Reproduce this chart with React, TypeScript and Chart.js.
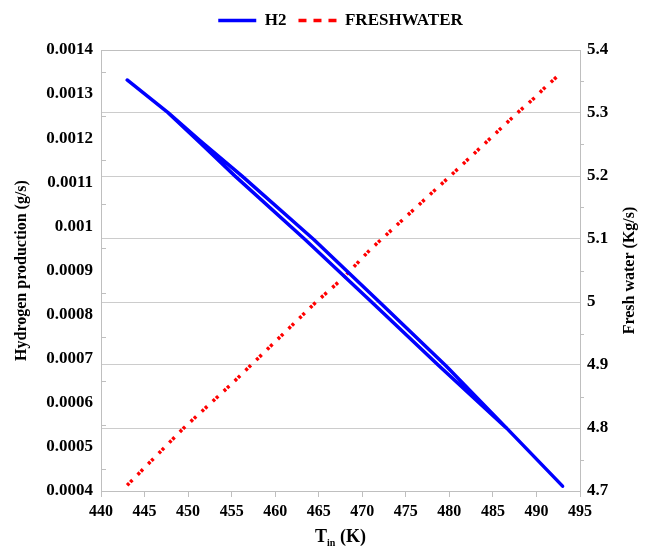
import React, { useEffect, useRef } from "react";
import { Chart, registerables } from "chart.js";

Chart.register(...registerables);

// ---- data ----
const seriesLabels = ["H2", "FRESHWATER"];

// H2 traces a narrow loop: out along the lower branch, back along the upper one
const h2Temps = [443, 447.7, 451.4, 455.4, 463.4, 471.1, 478.8, 486.6, 493, 486.6, 479.6, 472.0, 464.4, 456.2, 451.4, 447.7, 443];
const h2Values = [0.001332, 0.001258, 0.001189, 0.001114, 0.000971, 0.000828, 0.000684, 0.000542, 0.000411, 0.000542, 0.000684, 0.000828, 0.000971, 0.001114, 0.001194, 0.001258, 0.001332];

const fwTemps = [443, 449.5, 455, 464.7, 467.8, 470.9, 480.1, 487.8, 489.6, 491.1, 492.7];
const fwValues = [4.709, 4.8, 4.87, 5.0, 5.038, 5.083, 5.2, 5.3, 5.322, 5.342, 5.362];

const xRange = [440, 495];
const xStep = 5;
const h2Range = [0.0004, 0.0014];
const h2Step = 0.0001;
const fwRange = [4.7, 5.4];
const fwStep = 0.1;

const leftTitle = "Hydrogen production (g/s)";
const rightTitle = "Fresh water (Kg/s)";
const xTitleMain = "T";
const xTitleSub = "in";
const xTitleTail = " (K)";

const FONT = '"Liberation Serif", "Times New Roman", serif';
const AXIS_COLOR = "#bfbfbf";
const GRID_COLOR = "#cccccc";

const decorPlugin = {
  id: "decor",
  afterDraw(chart: any) {
    const { ctx, chartArea, scales } = chart;
    const y = scales.y;
    const y1 = scales.y1;
    ctx.save();
    ctx.strokeStyle = AXIS_COLOR;
    ctx.lineWidth = 1;
    ctx.setLineDash([]);
    // minor ticks on the left axis (inside), halfway between labels
    const lt = y.ticks;
    for (let i = 0; i < lt.length - 1; i++) {
      const py = Math.round((y.getPixelForValue(lt[i].value) + y.getPixelForValue(lt[i + 1].value)) / 2) + 0.5;
      ctx.beginPath();
      ctx.moveTo(chartArea.left, py);
      ctx.lineTo(chartArea.left + 5, py);
      ctx.stroke();
    }
    // minor ticks on the right axis (outside)
    const rt = y1.ticks;
    for (let i = 0; i < rt.length - 1; i++) {
      const py = Math.round((y1.getPixelForValue(rt[i].value) + y1.getPixelForValue(rt[i + 1].value)) / 2) + 0.5;
      ctx.beginPath();
      ctx.moveTo(chartArea.right, py);
      ctx.lineTo(chartArea.right + 4, py);
      ctx.stroke();
    }
    // axis titles
    ctx.fillStyle = "#000";
    ctx.textAlign = "center";
    ctx.textBaseline = "middle";
    ctx.font = `bold 16px ${FONT}`;
    const midY = (chartArea.top + chartArea.bottom) / 2;
    ctx.save();
    ctx.translate(22, midY);
    ctx.rotate(-Math.PI / 2);
    ctx.fillText(leftTitle, 0, 0);
    ctx.restore();
    ctx.save();
    ctx.translate(630, midY);
    ctx.rotate(-Math.PI / 2);
    ctx.fillText(rightTitle, 0, 0);
    ctx.restore();
    // x title with subscript
    ctx.textAlign = "left";
    ctx.textBaseline = "alphabetic";
    const mainFont = `bold 18px ${FONT}`;
    const subFont = `bold 10px ${FONT}`;
    ctx.font = mainFont;
    const wT = ctx.measureText(xTitleMain).width;
    const wTail = ctx.measureText(xTitleTail).width;
    ctx.font = subFont;
    const wSub = ctx.measureText(xTitleSub).width;
    const total = wT + wSub + wTail;
    const cx = (chartArea.left + chartArea.right) / 2;
    let x = cx - total / 2;
    const base = 542;
    ctx.font = mainFont;
    ctx.fillText(xTitleMain, x, base);
    x += wT;
    ctx.font = subFont;
    ctx.fillText(xTitleSub, x, base + 4);
    x += wSub;
    ctx.font = mainFont;
    ctx.fillText(xTitleTail, x, base);
    ctx.restore();
  },
};

export default function App() {
  const canvasRef = useRef<HTMLCanvasElement | null>(null);

  useEffect(() => {
    if (!canvasRef.current) return;
    const h2Data = h2Temps.map((t, i) => ({ x: t, y: h2Values[i] }));
    const fwData = fwTemps.map((t, i) => ({ x: t, y: fwValues[i] }));

    const chart = new Chart(canvasRef.current, {
      type: "line",
      data: {
        datasets: [
          {
            label: seriesLabels[0],
            data: h2Data,
            borderColor: "#0000ff",
            backgroundColor: "#0000ff",
            borderWidth: 3.5,
            pointRadius: 0,
            pointHoverRadius: 0,
            fill: false,
            tension: 0,
            borderJoinStyle: "round",
            borderCapStyle: "round",
            yAxisID: "y",
            xAxisID: "x",
          },
          {
            label: seriesLabels[1],
            data: fwData,
            borderColor: "#ff0000",
            backgroundColor: "#ff0000",
            borderWidth: 3.5,
            borderDash: [3, 1.5, 3, 7.5],
            pointRadius: 0,
            pointHoverRadius: 0,
            fill: false,
            tension: 0,
            yAxisID: "y1",
            xAxisID: "x",
          },
        ],
      },
      options: {
        animation: false,
        responsive: false,
        maintainAspectRatio: false,
        layout: { padding: 0 },
        plugins: {
          tooltip: { enabled: false },
          legend: {
            display: true,
            position: "top",
            fullSize: false,
            labels: {
              usePointStyle: true,
              pointStyle: "line",
              pointStyleWidth: 38,
              boxWidth: 38,
              padding: 12,
              color: "#000",
              font: { family: FONT, size: 17, weight: "bold" },
              generateLabels: (c: any) => {
                const items = Chart.defaults.plugins.legend.labels.generateLabels(c);
                return items.map((it: any, i: number) => {
                  it.lineWidth = 3.5;
                  it.lineDash = i === 1 ? [8, 7] : [];
                  it.lineCap = "butt";
                  return it;
                });
              },
            },
          },
        },
        scales: {
          x: {
            type: "linear",
            position: "bottom",
            min: xRange[0],
            max: xRange[1],
            ticks: {
              stepSize: xStep,
              color: "#000",
              padding: 5,
              maxRotation: 0,
              font: { family: FONT, size: 16, weight: "bold" },
            },
            grid: {
              display: true,
              drawOnChartArea: false,
              drawTicks: true,
              tickLength: 6,
              color: AXIS_COLOR,
            },
            border: { display: true, color: AXIS_COLOR, width: 1 },
            afterFit: (s: any) => {
              s.height = 58;
            },
          },
          x2: {
            type: "linear",
            position: "top",
            min: xRange[0],
            max: xRange[1],
            ticks: { display: false },
            grid: { display: false, drawTicks: false },
            border: { display: true, color: AXIS_COLOR, width: 1 },
            afterFit: (s: any) => {
              s.height = 11;
            },
          },
          y: {
            type: "linear",
            position: "left",
            min: h2Range[0],
            max: h2Range[1],
            ticks: {
              stepSize: h2Step,
              color: "#000",
              padding: 8,
              font: { family: FONT, size: 17, weight: "bold" },
              callback: (v: any) => String(Number(Number(v).toFixed(4))),
            },
            grid: { display: false, drawTicks: false },
            border: { display: true, color: AXIS_COLOR, width: 1 },
            afterFit: (s: any) => {
              s.width = 101;
            },
          },
          y1: {
            type: "linear",
            position: "right",
            min: fwRange[0],
            max: fwRange[1],
            ticks: {
              stepSize: fwStep,
              color: "#000",
              padding: 7,
              font: { family: FONT, size: 17, weight: "bold" },
              callback: (v: any) => String(Number(Number(v).toFixed(1))),
            },
            grid: {
              display: true,
              drawOnChartArea: true,
              drawTicks: false,
              color: GRID_COLOR,
            },
            border: { display: true, color: AXIS_COLOR, width: 1 },
            afterFit: (s: any) => {
              s.width = 66;
            },
          },
        },
      },
      plugins: [decorPlugin],
    } as any);

    return () => {
      chart.destroy();
    };
  }, []);

  return (
    <div style={{ position: "fixed", left: 0, top: 0, width: 646, height: 549, background: "#fff" }}>
      <canvas ref={canvasRef} width={646} height={549} style={{ width: 646, height: 549, display: "block" }} />
    </div>
  );
}
